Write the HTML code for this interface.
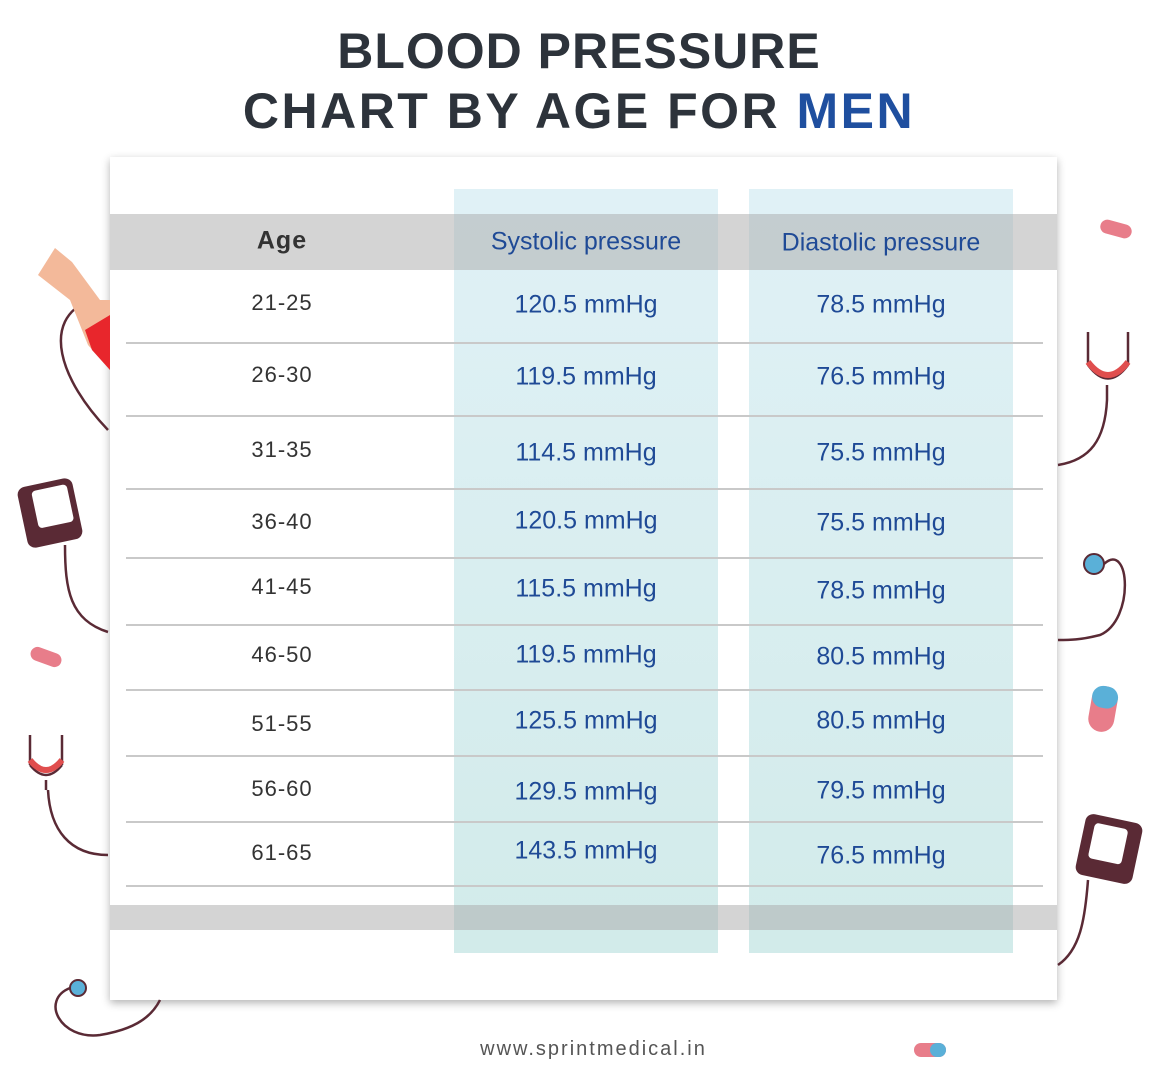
<!DOCTYPE html>
<html><head><style>
body{margin:0;width:1158px;height:1083px;background:#fff;position:relative;overflow:hidden;font-family:"Liberation Sans",sans-serif}
.a{position:absolute}
.t{left:0;width:1158px;text-align:center;font-weight:bold;font-size:50px;color:#2d333b;letter-spacing:1px}
.card{left:110px;top:157px;width:947px;height:843px;background:#fff;box-shadow:0 3px 8px rgba(0,0,0,.3)}
.col{top:189px;width:264px;height:764px;background:linear-gradient(#e0f1f6,#d2ebea)}
.band{left:110px;width:947px;background:rgba(170,170,170,.5)}
.ln{left:126px;width:917px;height:1.5px;background:#c9c9c9}
.c{position:absolute;width:300px;text-align:center;transform:translateY(-50%)}
.ag{left:132px;font-size:22px;color:#333;letter-spacing:1px}
.sv{left:436px;font-size:25px;color:#1f4a96}
.dv{left:731px;font-size:25px;color:#1f4a96}
</style></head><body>
<div class="a t" style="top:22px">BLOOD PRESSURE</div>
<div class="a t" style="top:82px;letter-spacing:2.5px">CHART BY AGE FOR <span style="color:#1f4f9f">MEN</span></div>
<div class="a card"></div>
<div class="a col" style="left:454px"></div>
<div class="a col" style="left:749px"></div>
<div class="a band" style="top:214px;height:56px"></div>
<div class="a band" style="top:905px;height:25px"></div>
<div class="a ln" style="top:342px"></div><div class="a ln" style="top:415px"></div><div class="a ln" style="top:488px"></div><div class="a ln" style="top:557px"></div><div class="a ln" style="top:624px"></div><div class="a ln" style="top:689px"></div><div class="a ln" style="top:755px"></div><div class="a ln" style="top:821px"></div><div class="a ln" style="top:885px"></div>
<div class="c ag" style="top:241px;font-size:25px;font-weight:bold;color:#333">Age</div>
<div class="c sv" style="top:242px;font-size:25px">Systolic pressure</div>
<div class="c dv" style="top:243px;font-size:25px">Diastolic pressure</div>
<div class="c ag" style="top:303px">21-25</div><div class="c sv" style="top:305px">120.5 mmHg</div><div class="c dv" style="top:305px">78.5 mmHg</div>
<div class="c ag" style="top:375px">26-30</div><div class="c sv" style="top:377px">119.5 mmHg</div><div class="c dv" style="top:377px">76.5 mmHg</div>
<div class="c ag" style="top:450px">31-35</div><div class="c sv" style="top:453px">114.5 mmHg</div><div class="c dv" style="top:453px">75.5 mmHg</div>
<div class="c ag" style="top:522px">36-40</div><div class="c sv" style="top:521px">120.5 mmHg</div><div class="c dv" style="top:523px">75.5 mmHg</div>
<div class="c ag" style="top:587px">41-45</div><div class="c sv" style="top:589px">115.5 mmHg</div><div class="c dv" style="top:591px">78.5 mmHg</div>
<div class="c ag" style="top:655px">46-50</div><div class="c sv" style="top:655px">119.5 mmHg</div><div class="c dv" style="top:657px">80.5 mmHg</div>
<div class="c ag" style="top:724px">51-55</div><div class="c sv" style="top:721px">125.5 mmHg</div><div class="c dv" style="top:721px">80.5 mmHg</div>
<div class="c ag" style="top:789px">56-60</div><div class="c sv" style="top:792px">129.5 mmHg</div><div class="c dv" style="top:791px">79.5 mmHg</div>
<div class="c ag" style="top:853px">61-65</div><div class="c sv" style="top:851px">143.5 mmHg</div><div class="c dv" style="top:856px">76.5 mmHg</div>
<div class="a" style="top:1038px;left:0;width:1187px;text-align:center;font-size:20px;color:#555;letter-spacing:2px">www.sprintmedical.in</div>
<svg class="a" style="left:0;top:0" width="1158" height="1083" fill="none">
<path d="M108 430 C60 380 40 320 90 300" stroke="#5a2a35" stroke-width="2.5"/>
<path d="M38 275 L55 248 L72 262 L100 300 L110 300 L110 370 L88 345 L70 300 Z" fill="#f3b99a"/>
<path d="M85 330 L110 315 L110 370 L92 350 Z" fill="#e8262c"/>
<rect x="22" y="482" width="56" height="62" rx="8" fill="#5a2a35" transform="rotate(-12 50 513)"/>
<rect x="36" y="488" width="36" height="38" rx="4" fill="#fff" transform="rotate(-12 50 513)"/>
<path d="M65 545 C65 590 70 620 108 632" stroke="#5a2a35" stroke-width="2.5"/>
<path d="M30 735 L30 765 M62 735 L62 765 M30 765 Q46 785 62 765 M46 780 L46 790 M48 790 C50 830 70 855 108 855" stroke="#5a2a35" stroke-width="2.5"/>
<path d="M30 760 Q46 780 62 760" stroke="#e04e4e" stroke-width="6"/>
<rect x="30" y="650" width="32" height="14" rx="7" fill="#e87d8a" transform="rotate(20 46 657)"/>
<circle cx="78" cy="988" r="8" fill="#5ab0d8" stroke="#5a2a35" stroke-width="2"/>
<path d="M70 988 C40 1000 60 1040 100 1035 C130 1030 150 1020 160 1000" stroke="#5a2a35" stroke-width="2.5"/>
<rect x="1100" y="222" width="32" height="14" rx="7" fill="#e87d8a" transform="rotate(15 1116 229)"/>
<path d="M1088 332 L1088 365 M1128 332 L1128 365 M1088 365 Q1108 392 1128 365 M1107 385 L1107 400 M1107 400 C1105 440 1090 460 1058 465" stroke="#5a2a35" stroke-width="2.5"/>
<path d="M1088 362 Q1108 388 1128 362" stroke="#e04e4e" stroke-width="6"/>
<circle cx="1094" cy="564" r="10" fill="#5ab0d8" stroke="#5a2a35" stroke-width="2"/>
<path d="M1104 564 C1130 540 1135 620 1100 635 C1080 640 1070 640 1058 640" stroke="#5a2a35" stroke-width="2.5"/>
<rect x="1090" y="686" width="26" height="46" rx="13" fill="#e87d8a" transform="rotate(10 1103 709)"/>
<rect x="1090" y="686" width="26" height="22" rx="11" fill="#5ab0d8" transform="rotate(10 1103 709)"/>
<rect x="1080" y="818" width="58" height="62" rx="8" fill="#5a2a35" transform="rotate(12 1109 849)"/>
<rect x="1090" y="826" width="34" height="36" rx="4" fill="#fff" transform="rotate(12 1109 849)"/>
<path d="M1088 880 C1085 920 1080 950 1058 965" stroke="#5a2a35" stroke-width="2.5"/>
<rect x="914" y="1043" width="32" height="14" rx="7" fill="#e87d8a"/>
<rect x="930" y="1043" width="16" height="14" rx="7" fill="#5ab0d8"/>
</svg>
</body></html>
